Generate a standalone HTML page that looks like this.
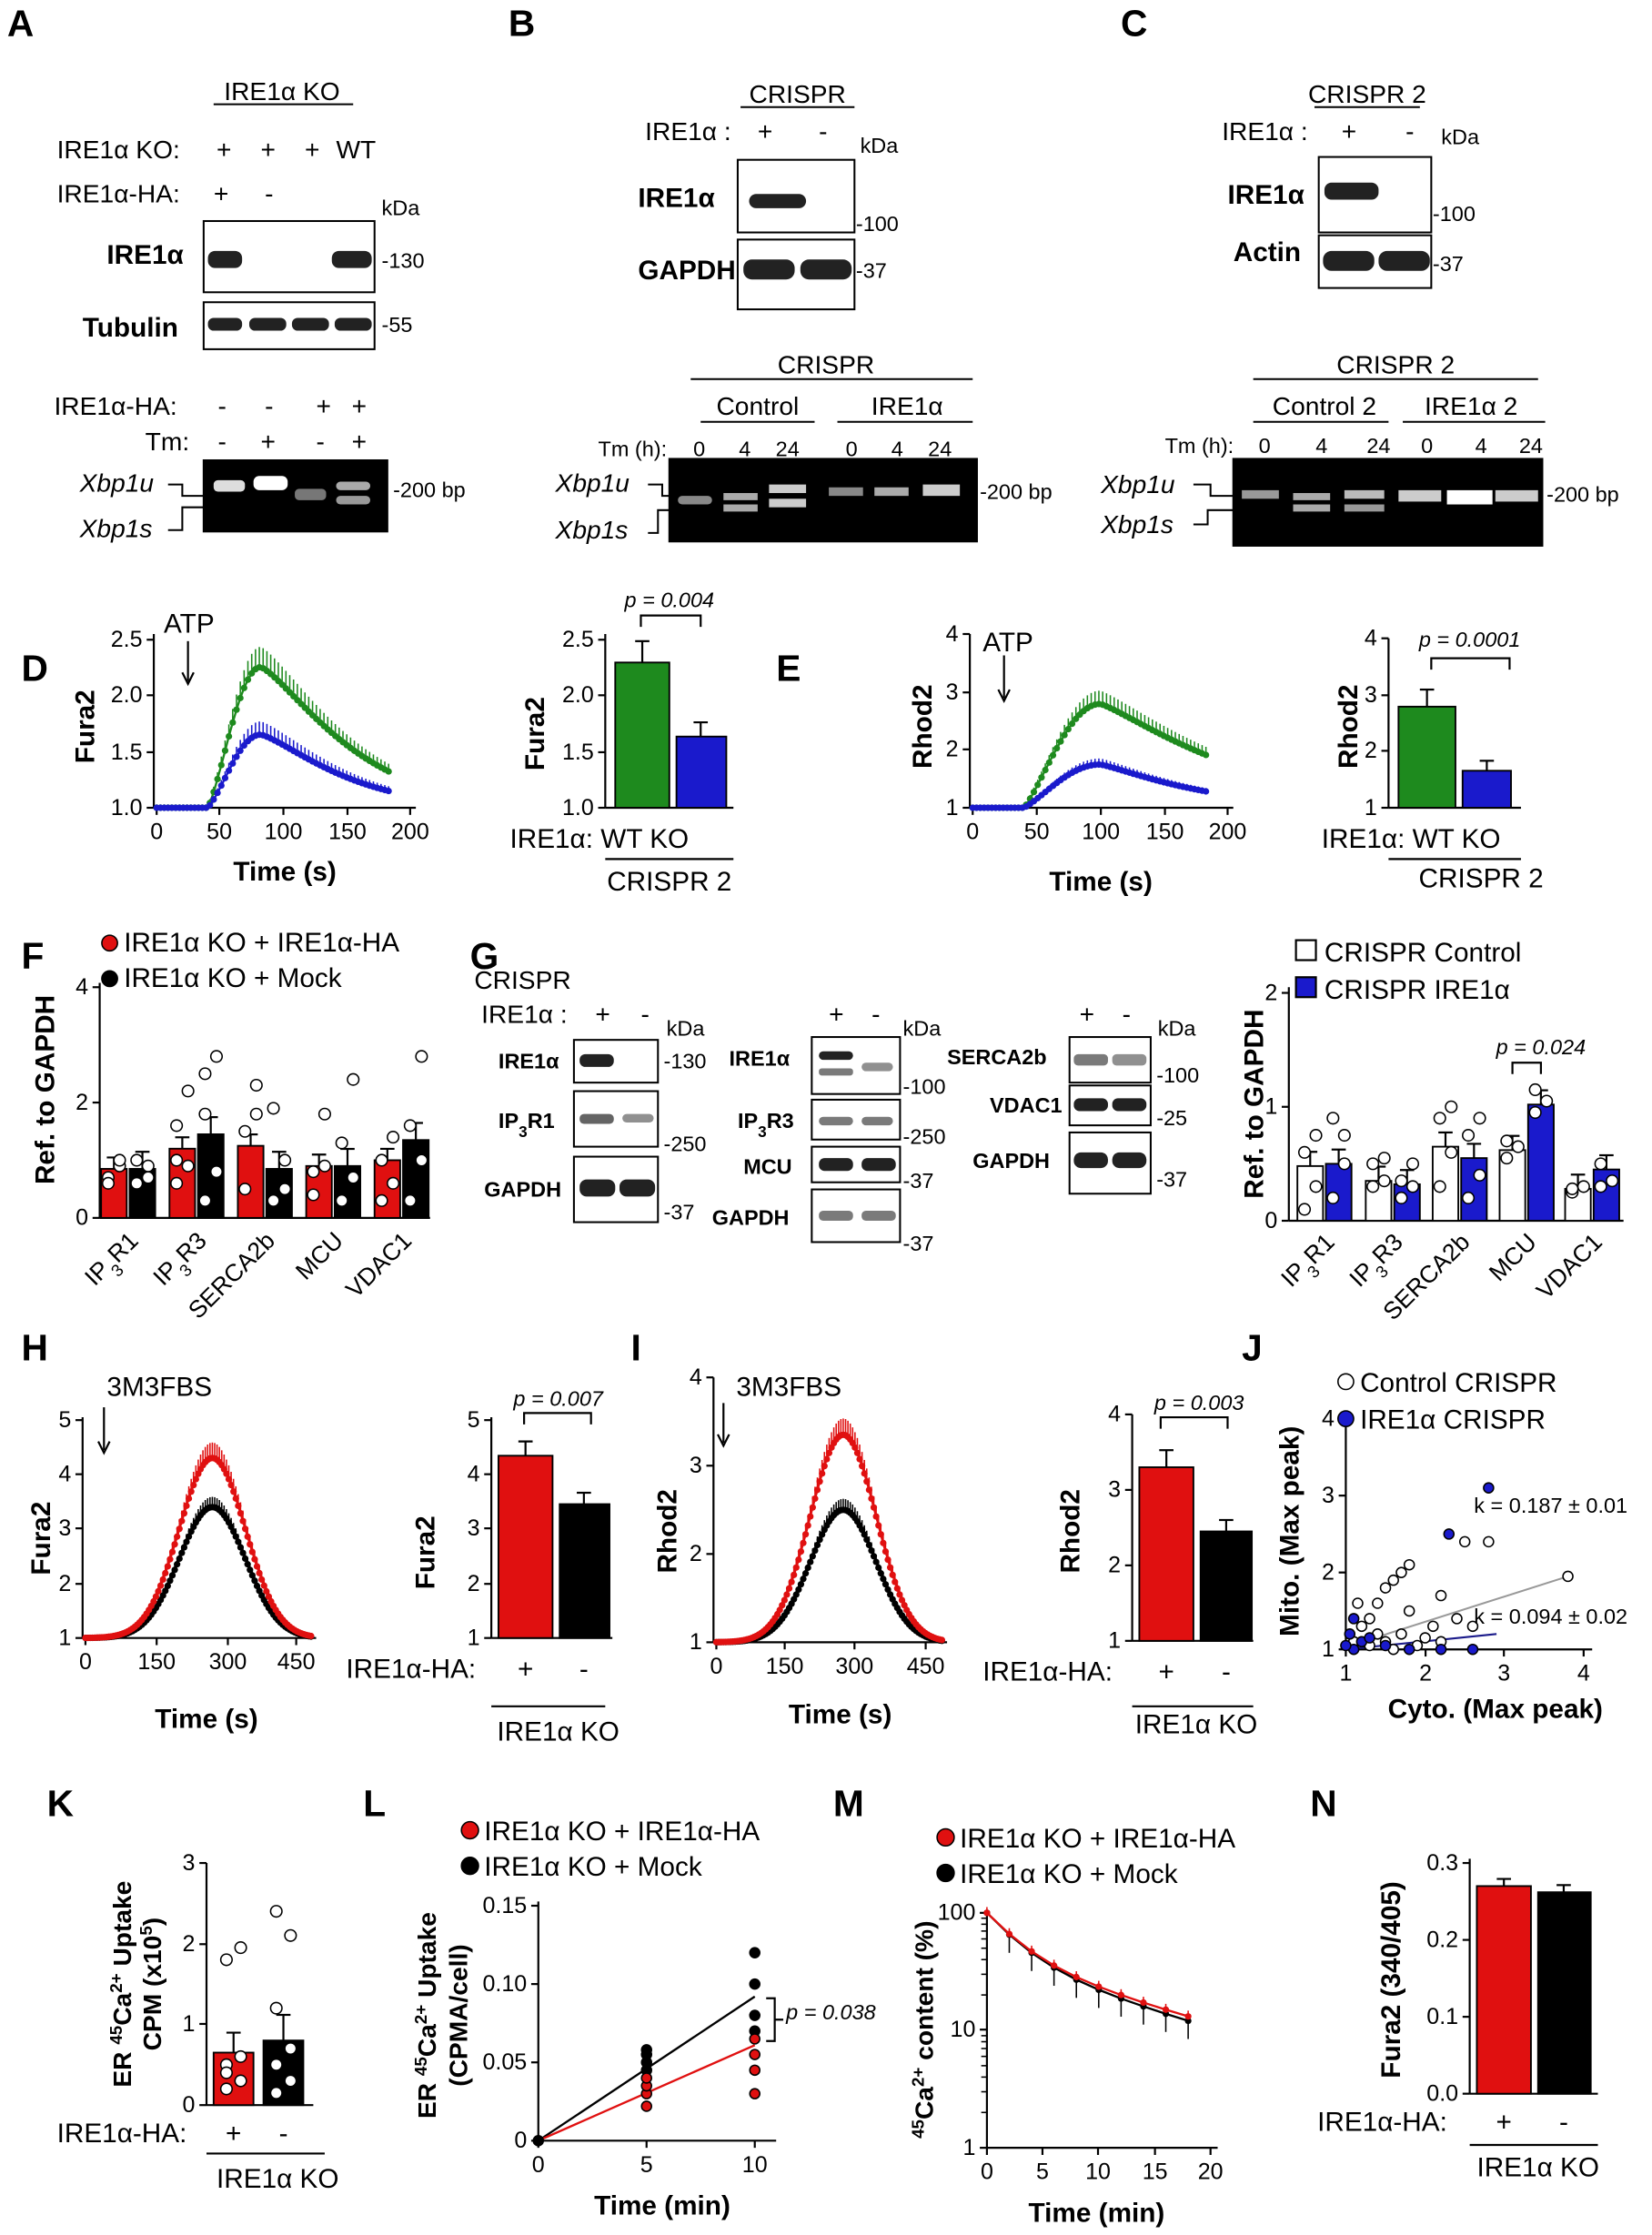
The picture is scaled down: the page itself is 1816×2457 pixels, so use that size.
<!DOCTYPE html>
<html><head><meta charset="utf-8"><style>
html,body{margin:0;padding:0;background:#fff}
svg{display:block}
text{font-family:"Liberation Sans",Arial,sans-serif;fill:#000}
.L{font-size:26px;font-weight:bold}
.t{font-size:18px}
.s{font-size:15px}
.b{font-size:19px;font-weight:bold}
.i{font-style:italic}
</style></head><body>
<svg id="f" width="1816" height="2457" viewBox="0 0 1160 1569" xmlns="http://www.w3.org/2000/svg">
<g id="g0" fill="none" stroke="#000" stroke-width="1.3">
<line x1="150" y1="73" x2="248" y2="73"/>
<rect x="143" y="155" width="120" height="50"/><rect x="143" y="212" width="120" height="33"/>
<rect x="143" y="323" width="129" height="50" fill="#000"/>
<line x1="520" y1="75" x2="600" y2="75"/>
<rect x="518" y="112" width="82" height="51"/><rect x="518" y="168" width="82" height="49"/>
<line x1="485" y1="266" x2="683" y2="266"/><line x1="492" y1="296" x2="572" y2="296"/><line x1="588" y1="296" x2="683" y2="296"/>
<rect x="470" y="322" width="216" height="58" fill="#000"/>
<line x1="923" y1="75" x2="997" y2="75"/>
<rect x="926" y="110" width="79" height="53"/><rect x="926" y="165" width="79" height="37"/>
<line x1="880" y1="266" x2="1080" y2="266"/><line x1="880" y1="296" x2="975" y2="296"/><line x1="985" y1="296" x2="1085" y2="296"/>
<rect x="866" y="322" width="217" height="61" fill="#000"/>
<rect x="403" y="730" width="59" height="30"/><rect x="403" y="766" width="59" height="39"/><rect x="403" y="812" width="59" height="46"/>
<rect x="570" y="728" width="62" height="40"/><rect x="570" y="772" width="62" height="28"/><rect x="570" y="805" width="62" height="25"/><rect x="570" y="835" width="62" height="37"/>
<rect x="751" y="728" width="57" height="32"/><rect x="751" y="762" width="57" height="28"/><rect x="751" y="795" width="57" height="43"/>
</g>
<g fill="#222">
<rect x="146" y="176" width="24" height="12" rx="5"/><rect x="233" y="176" width="28" height="12" rx="5"/>
<rect x="146" y="223" width="24" height="9" rx="4"/><rect x="175" y="223" width="26" height="9" rx="4"/><rect x="205" y="223" width="26" height="9" rx="4"/><rect x="235" y="223" width="26" height="9" rx="4"/>
<rect x="526" y="136" width="40" height="10" rx="5"/>
<rect x="522" y="182" width="36" height="14" rx="6"/><rect x="562" y="182" width="36" height="14" rx="6"/>
<rect x="930" y="128" width="38" height="12" rx="5"/>
<rect x="929" y="176" width="36" height="14" rx="6"/><rect x="968" y="176" width="36" height="14" rx="6"/>
<rect x="407" y="740" width="24" height="9" rx="4"/>
<rect x="407" y="782" width="24" height="7" rx="3" opacity=".7"/><rect x="437" y="782" width="22" height="6" rx="3" opacity=".5"/>
<rect x="407" y="828" width="25" height="12" rx="5"/><rect x="435" y="828" width="25" height="12" rx="5"/>
<rect x="575" y="738" width="24" height="6" rx="3"/><rect x="575" y="750" width="24" height="5" rx="2" opacity=".6"/><rect x="605" y="746" width="22" height="6" rx="3" opacity=".5"/>
<rect x="575" y="784" width="24" height="6" rx="3" opacity=".6"/><rect x="605" y="784" width="22" height="6" rx="3" opacity=".6"/>
<rect x="575" y="813" width="24" height="9" rx="4"/><rect x="605" y="813" width="24" height="9" rx="4"/>
<rect x="575" y="850" width="24" height="7" rx="3" opacity=".6"/><rect x="605" y="850" width="24" height="7" rx="3" opacity=".6"/>
<rect x="754" y="740" width="24" height="8" rx="3" opacity=".6"/><rect x="781" y="740" width="24" height="8" rx="3" opacity=".5"/>
<rect x="754" y="771" width="24" height="9" rx="4"/><rect x="781" y="771" width="24" height="9" rx="4"/>
<rect x="754" y="809" width="24" height="11" rx="5"/><rect x="781" y="809" width="24" height="11" rx="5"/>
</g>
<g fill="#ddd">
<rect x="150" y="337" width="22" height="8" rx="3"/><rect x="178" y="334" width="24" height="10" rx="4" fill="#fff"/><rect x="207" y="343" width="22" height="8" rx="3" fill="#777"/><rect x="236" y="338" width="24" height="6" rx="3" fill="#aaa"/><rect x="236" y="348" width="24" height="6" rx="3" fill="#999"/>
<rect x="476" y="348" width="24" height="6" rx="3" fill="#888"/><rect x="508" y="346" width="24" height="5" fill="#aaa"/><rect x="508" y="354" width="24" height="5" fill="#aaa"/><rect x="540" y="340" width="26" height="6" fill="#ccc"/><rect x="540" y="350" width="26" height="6" fill="#ccc"/><rect x="582" y="342" width="24" height="6" fill="#888"/><rect x="614" y="342" width="24" height="6" fill="#aaa"/><rect x="648" y="340" width="26" height="8" fill="#ccc"/>
<rect x="872" y="344" width="26" height="6" fill="#999"/><rect x="908" y="346" width="26" height="5" fill="#aaa"/><rect x="908" y="354" width="26" height="5" fill="#aaa"/><rect x="944" y="344" width="28" height="6" fill="#bbb"/><rect x="944" y="354" width="28" height="5" fill="#999"/><rect x="982" y="344" width="30" height="8" fill="#ccc"/><rect x="1016" y="344" width="32" height="10" fill="#fff"/><rect x="1050" y="344" width="30" height="8" fill="#ccc"/>
</g>
<g fill="none" stroke="#000" stroke-width="1.3">
<path d="M118 340 H128 V348 H143 M118 372 H128 V356 H143"/>
<path d="M455 340 H465 V348 H470 M455 374 H462 V358 H470"/>
<path d="M838 340 H850 V348 H866 M838 368 H848 V358 H866"/>
</g>
<g class="t">
<text x="198" y="70" text-anchor="middle">IRE1α KO</text>
<text x="40" y="111">IRE1α KO:</text><text x="152" y="111">+</text><text x="183" y="111">+</text><text x="214" y="111">+</text><text x="236" y="111">WT</text>
<text x="40" y="142">IRE1α-HA:</text><text x="150" y="142">+</text><text x="186" y="142">-</text>
<text x="268" y="151" class="s">kDa</text>
<text x="75" y="185" class="b">IRE1α</text><text x="58" y="236" class="b">Tubulin</text>
<text x="268" y="188" class="s">-130</text><text x="268" y="233" class="s">-55</text>
<text x="38" y="291">IRE1α-HA:</text><text x="153" y="291">-</text><text x="186" y="291">-</text><text x="222" y="291">+</text><text x="247" y="291">+</text>
<text x="102" y="316">Tm:</text><text x="153" y="316">-</text><text x="183" y="316">+</text><text x="222" y="316">-</text><text x="247" y="316">+</text>
<text x="56" y="345" class="i">Xbp1u</text><text x="56" y="377" class="i">Xbp1s</text>
<text x="276" y="349" class="s">-200 bp</text>
<text x="560" y="72" text-anchor="middle">CRISPR</text>
<text x="453" y="98">IRE1α :</text><text x="532" y="98">+</text><text x="575" y="98">-</text><text x="604" y="107" class="s">kDa</text>
<text x="448" y="145" class="b">IRE1α</text><text x="448" y="196" class="b">GAPDH</text>
<text x="601" y="162" class="s">-100</text><text x="601" y="195" class="s">-37</text>
<text x="580" y="262" text-anchor="middle">CRISPR</text>
<text x="532" y="291" text-anchor="middle">Control</text><text x="637" y="291" text-anchor="middle">IRE1α</text>
<text x="420" y="320" class="s">Tm (h):</text>
<text x="491" y="320" class="s" text-anchor="middle">0</text><text x="523" y="320" class="s" text-anchor="middle">4</text><text x="553" y="320" class="s" text-anchor="middle">24</text>
<text x="598" y="320" class="s" text-anchor="middle">0</text><text x="630" y="320" class="s" text-anchor="middle">4</text><text x="660" y="320" class="s" text-anchor="middle">24</text>
<text x="390" y="345" class="i">Xbp1u</text><text x="390" y="378" class="i">Xbp1s</text>
<text x="688" y="350" class="s">-200 bp</text>
<text x="960" y="72" text-anchor="middle">CRISPR 2</text>
<text x="858" y="98">IRE1α :</text><text x="942" y="98">+</text><text x="987" y="98">-</text><text x="1012" y="101" class="s">kDa</text>
<text x="862" y="143" class="b">IRE1α</text><text x="866" y="183" class="b">Actin</text>
<text x="1006" y="155" class="s">-100</text><text x="1006" y="190" class="s">-37</text>
<text x="980" y="262" text-anchor="middle">CRISPR 2</text>
<text x="930" y="291" text-anchor="middle">Control  2</text><text x="1033" y="291" text-anchor="middle">IRE1α  2</text>
<text x="818" y="318" class="s">Tm (h):</text>
<text x="888" y="318" class="s" text-anchor="middle">0</text><text x="928" y="318" class="s" text-anchor="middle">4</text><text x="968" y="318" class="s" text-anchor="middle">24</text>
<text x="1002" y="318" class="s" text-anchor="middle">0</text><text x="1040" y="318" class="s" text-anchor="middle">4</text><text x="1075" y="318" class="s" text-anchor="middle">24</text>
<text x="773" y="346" class="i">Xbp1u</text><text x="773" y="374" class="i">Xbp1s</text>
<text x="1086" y="352" class="s">-200 bp</text>
<text x="333" y="694">CRISPR</text>
<text x="338" y="718">IRE1α :</text><text x="418" y="718">+</text><text x="450" y="718">-</text><text x="468" y="727" class="s">kDa</text>
<text x="350" y="750" class="s" font-weight="bold">IRE1α</text>
<text x="350" y="792" class="s" font-weight="bold">IP<tspan baseline-shift="sub" font-size="11">3</tspan>R1</text>
<text x="340" y="840" class="s" font-weight="bold">GAPDH</text>
<text x="466" y="750" class="s">-130</text><text x="466" y="808" class="s">-250</text><text x="466" y="856" class="s">-37</text>
<text x="582" y="718">+</text><text x="612" y="718">-</text><text x="634" y="727" class="s">kDa</text>
<text x="512" y="748" class="s" font-weight="bold">IRE1α</text>
<text x="518" y="792" class="s" font-weight="bold">IP<tspan baseline-shift="sub" font-size="11">3</tspan>R3</text>
<text x="522" y="824" class="s" font-weight="bold">MCU</text>
<text x="500" y="860" class="s" font-weight="bold">GAPDH</text>
<text x="634" y="768" class="s">-100</text><text x="634" y="803" class="s">-250</text><text x="634" y="834" class="s">-37</text><text x="634" y="878" class="s">-37</text>
<text x="758" y="718">+</text><text x="788" y="718">-</text><text x="813" y="727" class="s">kDa</text>
<text x="665" y="747" class="s" font-weight="bold">SERCA2b</text>
<text x="695" y="781" class="s" font-weight="bold">VDAC1</text>
<text x="683" y="820" class="s" font-weight="bold">GAPDH</text>
<text x="812" y="760" class="s">-100</text><text x="812" y="790" class="s">-25</text><text x="812" y="833" class="s">-37</text>
</g>
<g class="L">
<text x="5" y="25">A</text><text x="357" y="25">B</text><text x="787" y="25">C</text>
<text x="15" y="478">D</text><text x="545" y="478">E</text><text x="15" y="680">F</text><text x="330" y="680">G</text>
<text x="15" y="955">H</text><text x="443" y="955">I</text><text x="872" y="955">J</text>
<text x="33" y="1275">K</text><text x="255" y="1275">L</text><text x="585" y="1275">M</text><text x="920" y="1275">N</text>
</g>
<g id="plots" stroke="#000" stroke-width="1.4" fill="none"></g>
<g id="txt" class="t"></g>
</svg>
<script>
var NS="http://www.w3.org/2000/svg",P=document.getElementById('plots'),T=document.getElementById('txt');
function el(tag,a,par){var e=document.createElementNS(NS,tag);for(var k in a)e.setAttribute(k,a[k]);(par||P).appendChild(e);return e;}
function ln(x1,y1,x2,y2,c,w){el('line',{x1:x1,y1:y1,x2:x2,y2:y2,stroke:c||'#000','stroke-width':w||1.4});}
function tx(x,y,s,o){o=o||{};var a={x:x,y:y};if(o.a)a['text-anchor']=o.a;if(o.fs)a['font-size']=o.fs;if(o.fw)a['font-weight']=o.fw;if(o.fi)a['font-style']='italic';if(o.r!=null)a.transform='rotate('+o.r+' '+x+' '+y+')';var e=el('text',a,T);e.innerHTML=s;return e;}
function axes(x0,y0,x1,ytop,yt,xt){ln(x0,y0,x0,ytop);ln(x0,y0,x1,y0);
 yt.forEach(function(t){ln(x0-5,t[0],x0,t[0]);tx(x0-8,t[0]+5,t[1],{a:'end',fs:16});});
 (xt||[]).forEach(function(t){ln(t[0],y0,t[0],y0+5);tx(t[0],y0+22,t[1],{a:'middle',fs:16});});}
function series(xm,ym,fn,t0,t1,st,c,e){var d='';var pts=[];for(var t=t0;t<=t1;t+=st){var v=fn(t);pts.push([xm(t),ym(v),ym(v+e(v))]);}
 pts.forEach(function(p,i){d+=(i?'L':'M')+p[0].toFixed(1)+' '+p[1].toFixed(1);if(Math.abs(p[2]-p[1])>1)ln(p[0],p[1],p[0],p[2],c,1);});
 el('path',{d:d,stroke:c,'stroke-width':1.5});pts.forEach(function(p){el('circle',{cx:p[0],cy:p[1],r:2.3,fill:c,stroke:'none'});});}
function bar(x,w,yb,yt,c){el('rect',{x:x,y:yt,width:w,height:yb-yt,fill:c,stroke:'#000','stroke-width':1.2});}
function eb(x,y,d){ln(x,y,x,y-d);ln(x-5,y-d,x+5,y-d);}
function dot(x,y,f,r){el('circle',{cx:x,cy:y,r:r||4,fill:f,stroke:'#000','stroke-width':1});}
var G='#1e8a1e',B='#1a1acc',R='#e01010',K='#000';
function smooth(t,t0,tp,tau){if(t<t0)return 0;if(t<tp){var u=(t-t0)/(tp-t0);return Math.sin(u*Math.PI/2);}var s=(t-tp);return Math.exp(-s/tau)*(1-0*s);}
(function(){var xm=function(t){return 110+t*0.89},ym=function(v){return 567-(v-1)*79};
axes(108,567,292,445,[[567,'1.0'],[528,'1.5'],[488,'2.0'],[449,'2.5']],[[110,'0'],[154,'50'],[199,'100'],[244,'150'],[288,'200']]);
function g(t,tau){if(t<40)return 0;if(t<82){var u=(t-40)/42;return Math.pow(Math.sin(u*Math.PI/2),1.3);}return Math.exp(-Math.pow((t-82)/tau,1.3));}
series(xm,ym,function(t){return 1+1.25*g(t,80)},0,183,3,G,function(v){return 0.03+(v-1)*0.12});
series(xm,ym,function(t){return 1+0.65*g(t,75)},0,183,3,B,function(v){return 0.02+(v-1)*0.15});
tx(115,444,'ATP',{fs:19});ln(132,450,132,478);el('path',{d:'M128 472 L132 480 L136 472',stroke:'#000'});
tx(200,618,'Time (s)',{a:'middle',fs:19,fw:'bold'});tx(66,510,'Fura2',{a:'middle',fs:19,fw:'bold',r:-90});
axes(425,567,515,445,[[567,'1.0'],[528,'1.5'],[488,'2.0'],[449,'2.5']]);
bar(432,38,567,465,G);eb(451,465,15);bar(475,35,567,517,B);eb(492,517,10);
el('path',{d:'M450 440 V432 H492 V440'});tx(470,426,'p = 0.004',{a:'middle',fs:15,fi:1});
tx(358,595,'IRE1α: WT  KO',{fs:19});ln(425,603,515,603);tx(470,625,'CRISPR 2',{a:'middle',fs:19});
tx(382,515,'Fura2',{a:'middle',fs:19,fw:'bold',r:-90});})();
(function(){var xm=function(t){return 683+t*0.895},ym=function(v){return 567-(v-1)*40.5};
axes(681,567,866,445,[[567,'1'],[526,'2'],[486,'3'],[445,'4']],[[683,'0'],[728,'50'],[773,'100'],[818,'150'],[862,'200']]);
function g(t,tau){if(t<40)return 0;if(t<100){var u=(t-40)/60;return Math.pow(Math.sin(u*Math.PI/2),1.2);}return Math.exp(-Math.pow((t-100)/tau,1.2));}
series(xm,ym,function(t){return 1+1.8*g(t,115)},0,183,3,G,function(v){return 0.05+(v-1)*0.1});
series(xm,ym,function(t){return 1+0.75*g(t,85)},0,183,3,B,function(v){return 0.03+(v-1)*0.1});
tx(690,457,'ATP',{fs:19});ln(705,460,705,490);el('path',{d:'M701 484 L705 492 L709 484',stroke:'#000'});
tx(773,625,'Time (s)',{a:'middle',fs:19,fw:'bold'});tx(654,510,'Rhod2',{a:'middle',fs:19,fw:'bold',r:-90});
axes(975,567,1068,448,[[567,'1'],[527,'2'],[488,'3'],[448,'4']]);
bar(982,40,567,496,G);eb(1002,496,12);bar(1027,34,567,541,B);eb(1044,541,7);
el('path',{d:'M1005 470 V462 H1060 V470'});tx(1032,454,'p = 0.0001',{a:'middle',fs:15,fi:1});
tx(928,595,'IRE1α: WT  KO',{fs:19});ln(975,603,1068,603);tx(1040,623,'CRISPR 2',{a:'middle',fs:19});
tx(953,510,'Rhod2',{a:'middle',fs:19,fw:'bold',r:-90});})();
(function(){var y0=855,u=40.5;axes(70,y0,302,690,[[855,'0'],[774,'2'],[693,'4']]);
var vals=[[0.85,0.85],[1.2,1.45],[1.25,0.85],[0.9,0.9],[1.0,1.35]],cx=[90,138,186,234,282];
var pts=[[[.7,.9,.6,1],[.6,.9,1,.7]],[[.6,.9,1.6,2.2,1],[.3,.8,1.8,2.8,2.5]],[[.5,2.3,1.5,1.8],[.3,.5,1.9,1]],[[.4,.9,.8,1.8],[.3,.7,1.3,2.4]],[[.3,1.4,1,.6],[.3,1,1.6,2.8]]];
vals.forEach(function(v,i){var x=cx[i];bar(x-19,18,y0,y0-v[0]*u,R);bar(x+1,18,y0,y0-v[1]*u,K);eb(x-10,y0-v[0]*u,8);eb(x+10,y0-v[1]*u,12);
 pts[i][0].forEach(function(p,j){dot(x-10+(j%2?4:-4),y0-p*u,'#fff',4)});pts[i][1].forEach(function(p,j){dot(x+10+(j%2?4:-4),y0-p*u,'#fff',4)});});
['IP<tspan baseline-shift="sub" font-size="12">3</tspan>R1','IP<tspan baseline-shift="sub" font-size="12">3</tspan>R3','SERCA2b','MCU','VDAC1'].forEach(function(s,i){tx(cx[i]+8,872,s,{a:'end',fs:17,r:-45});});
dot(77,662,R,5.5);dot(77,687,K,5.5);tx(87,668,'IRE1α KO + IRE1α-HA',{fs:19});tx(87,693,'IRE1α KO + Mock',{fs:19});
tx(38,765,'Ref. to GAPDH',{a:'middle',fs:19,fw:'bold',r:-90});})();
(function(){var y0=857,u=80;axes(905,857,1140,693,[[857,'0'],[777,'1'],[697,'2']]);
var v=[[.48,.5],[.35,.32],[.65,.55],[.62,1.02],[.28,.45]],cx=[930,978,1025,1072,1118];
var pts=[[[.1,.3,.6,.75],[.2,.5,.9,.75]],[[.3,.35,.5,.55],[.2,.3,.35,.5]],[[.3,.6,.9,1],[.2,.4,.75,.9]],[[.55,.65,.7],[.95,1.05,1.15]],[[.25,.3,.28],[.3,.35,.5]]];
v.forEach(function(a,i){var x=cx[i];bar(x-19,18,y0,y0-a[0]*u,'#fff');bar(x+1,18,y0,y0-a[1]*u,B);eb(x-10,y0-a[0]*u,10);eb(x+10,y0-a[1]*u,10);
 pts[i][0].forEach(function(p,j){dot(x-10+(j%2?4:-4),y0-p*u,'#fff',4)});pts[i][1].forEach(function(p,j){dot(x+10+(j%2?4:-4),y0-p*u,'#fff',4)});});
['IP<tspan baseline-shift="sub" font-size="12">3</tspan>R1','IP<tspan baseline-shift="sub" font-size="12">3</tspan>R3','SERCA2b','MCU','VDAC1'].forEach(function(s,i){tx(cx[i]+8,873,s,{a:'end',fs:17,r:-45});});
el('path',{d:'M1062 754 V746 H1082 V754'});tx(1082,740,'p = 0.024',{a:'middle',fs:15,fi:1});
el('rect',{x:910,y:660,width:14,height:14,fill:'#fff',stroke:'#000'});el('rect',{x:910,y:686,width:14,height:14,fill:B,stroke:'#000'});
tx(930,675,'CRISPR Control',{fs:19});tx(930,701,'CRISPR IRE1α',{fs:19});
tx(887,775,'Ref. to GAPDH',{a:'middle',fs:19,fw:'bold',r:-90});})();
function bell(t){return Math.exp(-Math.pow((t-270)/70,2)/2);}
(function(){var xm=function(t){return 60+t*0.33},ym=function(v){return 1150-(v-1)*38.3};
axes(58,1150,222,995,[[1150,'1'],[1112,'2'],[1073,'3'],[1035,'4'],[997,'5']],[[60,'0'],[110,'150'],[160,'300'],[208,'450']]);
series(xm,ym,function(t){return 1+2.4*bell(t)},0,480,5,K,function(v){return 0.02+(v-1)*0.07});
series(xm,ym,function(t){return 1+3.3*bell(t)},0,480,5,R,function(v){return 0.02+(v-1)*0.08});
tx(75,980,'3M3FBS',{fs:19});ln(73,988,73,1018);el('path',{d:'M69 1012 L73 1020 L77 1012',stroke:'#000'});
tx(145,1213,'Time (s)',{a:'middle',fs:19,fw:'bold'});tx(35,1080,'Fura2',{a:'middle',fs:19,fw:'bold',r:-90});
axes(345,1150,430,995,[[1150,'1'],[1112,'2'],[1073,'3'],[1035,'4'],[997,'5']]);
bar(350,38,1150,1022,R);eb(369,1022,10);bar(393,35,1150,1056,K);eb(410,1056,8);
el('path',{d:'M368 1000 V992 H415 V1000'});tx(392,987,'p = 0.007',{a:'middle',fs:15,fi:1});
tx(243,1178,'IRE1α-HA:',{fs:19});tx(369,1178,'+',{a:'middle',fs:19});tx(410,1178,'-',{a:'middle',fs:19});
ln(345,1198,425,1198);tx(392,1222,'IRE1α KO',{a:'middle',fs:19});tx(305,1090,'Fura2',{a:'middle',fs:19,fw:'bold',r:-90});})();
(function(){var xm=function(t){return 503+t*0.33},ym=function(v){return 1153-(v-1)*62};
axes(501,1153,665,967,[[1153,'1'],[1091,'2'],[1029,'3'],[967,'4']],[[503,'0'],[551,'150'],[600,'300'],[650,'450']]);
series(xm,ym,function(t){return 1+1.5*bell(t)},0,480,5,K,function(v){return 0.02+(v-1)*0.07});
series(xm,ym,function(t){return 1+2.35*bell(t)},0,480,5,R,function(v){return 0.02+(v-1)*0.07});
tx(517,980,'3M3FBS',{fs:19});ln(508,985,508,1013);el('path',{d:'M504 1007 L508 1015 L512 1007',stroke:'#000'});
tx(590,1210,'Time (s)',{a:'middle',fs:19,fw:'bold'});tx(475,1075,'Rhod2',{a:'middle',fs:19,fw:'bold',r:-90});
var ym2=function(v){return 1152-(v-1)*53};
axes(795,1152,880,993,[[1152,'1'],[1099,'2'],[1046,'3'],[993,'4']]);
bar(800,38,1152,ym2(3.3),R);eb(819,ym2(3.3),12);bar(843,36,1152,ym2(2.45),K);eb(861,ym2(2.45),8);
el('path',{d:'M815 1003 V995 H862 V1003'});tx(842,990,'p = 0.003',{a:'middle',fs:15,fi:1});
tx(690,1180,'IRE1α-HA:',{fs:19});tx(819,1180,'+',{a:'middle',fs:19});tx(861,1180,'-',{a:'middle',fs:19});
ln(795,1198,880,1198);tx(840,1217,'IRE1α KO',{a:'middle',fs:19});tx(758,1075,'Rhod2',{a:'middle',fs:19,fw:'bold',r:-90});})();
(function(){var xm=function(v){return 945+(v-1)*55.7},ym=function(v){return 1158-(v-1)*54};
axes(945,1158,1118,993,[[1158,'1'],[1104,'2'],[1050,'3'],[996,'4']],[[945,'1'],[1001,'2'],[1056,'3'],[1112,'4']]);
ln(xm(1),ym(1.03),xm(3.8),ym(1.95),'#999',1.3);ln(xm(1),ym(1),xm(2.9),ym(1.2),'#1a1a8a',1.3);
var w=[[1.2,1.3],[1.4,1.6],[1.6,1.9],[1.8,2.1],[2.2,1.7],[2.5,2.4],[2.8,2.4],[3.8,1.95],[1.3,1.05],[1.5,1.1],[1.7,1.2],[1.9,1.05],[2.1,1.3],[1.15,1.6],[1.4,1.2],[1.6,1.0],[2.0,1.15],[2.4,1.4],[1.1,1.1],[1.3,1.4],[1.8,1.5],[2.2,1.1],[2.6,1.3],[1.5,1.8],[1.7,2.0]];
w.forEach(function(p){dot(xm(p[0]),ym(p[1]),'#fff',3.5)});
var bl=[[2.8,3.1],[2.3,2.5],[1.1,1.4],[1.2,1.1],[1.3,1.15],[1.05,1.2],[1.5,1.05],[2.2,1.0],[1.8,1.0],[1.1,1.0],[1.0,1.05],[2.6,1.0]];
bl.forEach(function(p){dot(xm(p[0]),ym(p[1]),B,3.5)});
dot(945,970,'#fff',5.5);dot(945,996,B,5.5);tx(955,977,'Control  CRISPR',{fs:19});tx(955,1003,'IRE1α CRISPR',{fs:19});
tx(1035,1062,'k = 0.187 ± 0.01',{fs:15});tx(1035,1140,'k = 0.094 ± 0.02',{fs:15});
tx(1050,1206,'Cyto. (Max peak)',{a:'middle',fs:19,fw:'bold'});tx(912,1075,'Mito. (Max peak)',{a:'middle',fs:19,fw:'bold',r:-90});})();
(function(){var y0=1478,u=56.7;axes(145,1478,220,1308,[[1478,'0'],[1421,'1'],[1365,'2'],[1308,'3']]);
bar(150,28,y0,y0-0.65*u,R);eb(164,y0-.65*u,14);bar(185,28,y0,y0-0.8*u,K);eb(199,y0-.8*u,18);
[.2,.3,.5,.6,1.8,1.95,.4].forEach(function(p,j){dot(164+(j%2?5:-5),y0-p*u,'#fff',4)});
[.15,.3,.5,.7,1.2,2.1,2.4].forEach(function(p,j){dot(199+(j%2?5:-5),y0-p*u,'#fff',4)});
tx(92,1393,'ER <tspan baseline-shift="super" font-size="12">45</tspan>Ca<tspan baseline-shift="super" font-size="12">2+</tspan> Uptake',{a:'middle',fs:18,fw:'bold',r:-90});
tx(113,1393,'CPM (x10<tspan baseline-shift="super" font-size="12">5</tspan>)',{a:'middle',fs:18,fw:'bold',r:-90});
tx(40,1504,'IRE1α-HA:',{fs:19});tx(164,1504,'+',{a:'middle',fs:19});tx(199,1504,'-',{a:'middle',fs:19});
ln(145,1512,228,1512);tx(195,1536,'IRE1α KO',{a:'middle',fs:19});})();
(function(){var xm=function(t){return 378+t*15.2},ym=function(v){return 1503-v*1100};
axes(378,1503,545,1335,[[1503,'0'],[1448,'0.05'],[1393,'0.10'],[1338,'0.15']],[[378,'0'],[454,'5'],[530,'10']]);
ln(xm(0),ym(0),xm(10),ym(.092),K,1.5);ln(xm(0),ym(0),xm(10),ym(.061),R,1.5);
[.05,.045,.055,.058].forEach(function(v){dot(xm(5),ym(v),K,3.5)});[.022,.03,.035,.04].forEach(function(v){dot(xm(5),ym(v),R,3.5)});
[.12,.1,.08,.07].forEach(function(v){dot(xm(10),ym(v),K,3.5)});[.065,.055,.045,.03].forEach(function(v){dot(xm(10),ym(v),R,3.5)});
dot(378,1503,K,3.5);
el('path',{d:'M538 1403 H544 V1433 H538 M544 1418 H550'});tx(552,1418,'p = 0.038',{fs:15,fi:1});
dot(330,1285,R,6);dot(330,1310,K,6);tx(340,1292,'IRE1α KO + IRE1α-HA',{fs:19});tx(340,1317,'IRE1α KO + Mock',{fs:19});
tx(306,1415,'ER <tspan baseline-shift="super" font-size="12">45</tspan>Ca<tspan baseline-shift="super" font-size="12">2+</tspan> Uptake',{a:'middle',fs:18,fw:'bold',r:-90});
tx(328,1415,'(CPMA/cell)',{a:'middle',fs:18,fw:'bold',r:-90});
tx(465,1555,'Time  (min)',{a:'middle',fs:19,fw:'bold'});})();
(function(){var xm=function(t){return 693+t*7.85},ym=function(v){return 1508-Math.log10(v)*82.5};
axes(693,1508,855,1343,[[1508,'1'],[1425,'10'],[1343,'100']],[[693,'0'],[732,'5'],[771,'10'],[811,'15'],[850,'20']]);
[2,3,4,5,6,7,8,9,20,30,40,50,60,70,80,90].forEach(function(v){ln(689,ym(v),693,ym(v),'#000',1);});
series(xm,ym,function(t){return 100*(0.62*Math.exp(-t/3)+0.38*Math.exp(-t/15.5))},0,18,2,K,function(v){return -v*0.3});
series(xm,ym,function(t){return 100*(0.6*Math.exp(-t/3)+0.4*Math.exp(-t/16))},0,18,2,R,function(v){return v*0.12});
dot(664,1290,R,6);dot(664,1315,K,6);tx(674,1297,'IRE1α KO + IRE1α-HA',{fs:19});tx(674,1322,'IRE1α KO + Mock',{fs:19});
tx(655,1425,'<tspan baseline-shift="super" font-size="12">45</tspan>Ca<tspan baseline-shift="super" font-size="12">2+</tspan> content (%)',{a:'middle',fs:18,fw:'bold',r:-90});
tx(770,1560,'Time  (min)',{a:'middle',fs:19,fw:'bold'});})();
(function(){var y0=1470,u=540;axes(1032,1470,1122,1305,[[1470,'0.0'],[1416,'0.1'],[1362,'0.2'],[1308,'0.3']]);
bar(1037,38,y0,y0-.27*u,R);eb(1056,y0-.27*u,5);bar(1080,37,y0,y0-.262*u,K);eb(1098,y0-.262*u,5);
tx(983,1390,'Fura2 (340/405)',{a:'middle',fs:19,fw:'bold',r:-90});
tx(925,1496,'IRE1α-HA:',{fs:19});tx(1056,1496,'+',{a:'middle',fs:19});tx(1098,1496,'-',{a:'middle',fs:19});
ln(1032,1506,1122,1506);tx(1080,1528,'IRE1α KO',{a:'middle',fs:19});})();
</script>
</body></html>
